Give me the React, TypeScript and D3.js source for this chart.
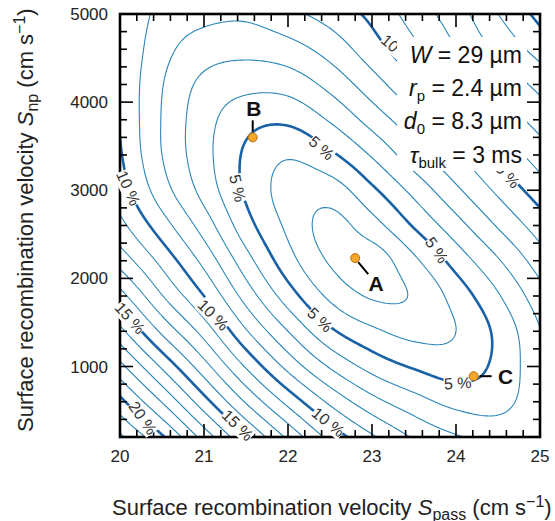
import React from "react";
import * as d3 from "d3";

const FONT = "'Liberation Sans', Arial, Helvetica, sans-serif";

// axes
const xTicks = [20, 21, 22, 23, 24, 25];
const yTicks = [1000, 2000, 3000, 4000, 5000];

// contour levels (efficiency loss, %)
const levels = [1, 2, 3, 4, 5, 6, 7, 8, 9, 10, 11, 12, 13, 14, 15, 16, 17, 18, 19, 20, 21, 22, 23, 24, 25];
const boldLevels = [5, 10, 15, 20, 25];

// sampled surface: columns = S_pass, rows = S_np (top row = 5000)
const gridX = [20, 20.5, 21, 21.5, 22, 22.5, 23, 23.5, 24, 24.5, 25];
const gridY = [5000, 4600, 4200, 3800, 3400, 3000, 2600, 2200, 1800, 1400, 1000, 600, 200];
const lossGrid = [
  [10.0, 8.7, 8.3, 8.2, 8.75, 9.4, 10.25, 11.45, 12.55, 14.0, 15.3],
  [9.95, 8.35, 7.5, 7.3, 7.6, 8.4, 9.55, 10.75, 11.95, 13.2, 14.4],
  [9.9, 8.05, 6.75, 6.3, 6.4, 7.3, 8.55, 9.85, 11.05, 12.2, 13.3],
  [9.95, 7.95, 6.4, 5.35, 5.2, 6.1, 7.4, 8.7, 10.0, 11.3, 12.4],
  [10.1, 8.0, 6.35, 4.85, 4.1, 4.8, 6.1, 7.6, 8.9, 10.2, 11.5],
  [10.5, 8.45, 6.65, 4.85, 3.6, 3.5, 4.8, 6.3, 7.8, 9.2, 10.5],
  [11.3, 9.45, 7.55, 5.4, 3.8, 2.7, 3.6, 5.1, 6.6, 8.1, 9.5],
  [12.6, 10.7, 8.7, 6.4, 4.4, 2.9, 2.5, 3.8, 5.4, 6.9, 8.5],
  [14.4, 12.05, 10.0, 7.6, 5.5, 3.8, 2.9, 3.1, 4.4, 5.9, 7.6],
  [16.3, 13.8, 11.6, 9.1, 7.0, 5.2, 4.2, 3.7, 4.0, 5.25, 6.95],
  [18.3, 15.85, 13.4, 10.9, 8.7, 6.9, 5.65, 4.9, 4.55, 5.25, 6.75],
  [20.3, 17.95, 15.4, 12.9, 10.7, 8.8, 7.35, 6.4, 5.7, 5.65, 6.7],
  [22.2, 20.15, 17.6, 15.1, 12.8, 10.7, 9.15, 7.9, 7.1, 6.7, 6.9],
];

const points = [
  { name: "A", x: 22.8, y: 2230 },
  { name: "B", x: 21.58, y: 3600 },
  { name: "C", x: 24.21, y: 890 },
];

const contourLabels = [
  { text: "5 %", x: 21.4, y: 3025, a: 77 },
  { text: "5 %", x: 22.4, y: 3480, a: 42 },
  { text: "5 %", x: 23.77, y: 2320, a: 55 },
  { text: "5 %", x: 24.02, y: 810, a: -3 },
  { text: "5 %", x: 22.38, y: 1530, a: 44 },
  { text: "10 %", x: 20.1, y: 3025, a: 66 },
  { text: "10 %", x: 21.11, y: 1585, a: 45 },
  { text: "10 %", x: 22.48, y: 370, a: 39 },
  { text: "10 %", x: 23.3, y: 4600, a: 40 },
  { text: "10 %", x: 24.58, y: 3205, a: 47 },
  { text: "15 %", x: 20.12, y: 1550, a: 48 },
  { text: "15 %", x: 21.4, y: 335, a: 45 },
  { text: "20 %", x: 20.27, y: 415, a: 55 },
];

function catmull(p0: number, p1: number, p2: number, p3: number, t: number) {
  const t2 = t * t, t3 = t2 * t;
  return 0.5 * ((-t3 + 2 * t2 - t) * p0 + (3 * t3 - 5 * t2 + 2) * p1 + (-3 * t3 + 4 * t2 + t) * p2 + (t3 - t2) * p3);
}

export default function App() {
  const W = 555, H = 521;
  const X0 = 120, X1 = 540, Y0 = 14, Y1 = 437;
  const x = d3.scaleLinear().domain([20, 25]).range([X0, X1]);
  const y = d3.scaleLinear().domain([200, 5000]).range([Y1, Y0]);

  const NX = gridX.length, NY = gridY.length;
  const P: number[][] = [];
  for (let r = -1; r <= NY; r++) {
    const row: number[] = [];
    for (let c = -1; c <= NX; c++) {
      const rc = Math.min(Math.max(r, 0), NY - 1), cc = Math.min(Math.max(c, 0), NX - 1);
      let v = lossGrid[rc][cc];
      if (c < 0) v += lossGrid[rc][0] - lossGrid[rc][1];
      if (c >= NX) v += lossGrid[rc][NX - 1] - lossGrid[rc][NX - 2];
      if (r < 0) v += lossGrid[0][cc] - lossGrid[1][cc];
      if (r >= NY) v += lossGrid[NY - 1][cc] - lossGrid[NY - 2][cc];
      row.push(v);
    }
    P.push(row);
  }
  const interp = (u: number, v: number) => {
    const i = Math.min(Math.max(Math.floor(u), 0), NX - 2), j = Math.min(Math.max(Math.floor(v), 0), NY - 2);
    const tu = u - i, tv = v - j;
    const rows: number[] = [];
    for (let k = -1; k <= 2; k++) {
      const R = P[j + k + 1];
      rows.push(catmull(R[i], R[i + 1], R[i + 2], R[i + 3], tu));
    }
    return catmull(rows[0], rows[1], rows[2], rows[3], tv);
  };

  const u = d3.scaleLinear().domain([gridX[0], gridX[NX - 1]]).range([0, NX - 1]);
  const v = d3.scaleLinear().domain([gridY[0], gridY[NY - 1]]).range([0, NY - 1]);

  const step = 2;
  const nx = Math.round((X1 - X0) / step) + 1;
  const ny = Math.round((Y1 - Y0) / step) + 1;
  const values: number[] = new Array(nx * ny);
  for (let j = 0; j < ny; j++)
    for (let i = 0; i < nx; i++)
      values[j * nx + i] = interp(u(x.invert(X0 + i * step)), v(y.invert(Y0 + j * step)));
  const contours = d3.contours().size([nx, ny]).thresholds(levels)(values);
  const proj = d3.geoTransform({
    point(px: number, py: number) {
      (this as any).stream.point(X0 + (px - 0.5) * step, Y0 + (py - 0.5) * step);
    },
  });
  const path = d3.geoPath(proj as any);

  const xMinor = d3.range(20, 25.001, 0.2);
  const yMinor = d3.range(200, 5000.1, 200);

  return (
    <svg width={W} height={H} style={{ position: "absolute", left: 0, top: 0, background: "#fff" }} fontFamily={FONT}>
      <defs>
        <clipPath id="plot">
          <rect x={X0} y={Y0} width={X1 - X0} height={Y1 - Y0} />
        </clipPath>
      </defs>
      <rect x={0} y={0} width={W} height={H} fill="#fff" />
      <g clipPath="url(#plot)" fill="none" strokeLinejoin="round">
        {contours.map((c) => (
          <path
            key={c.value}
            d={path(c as any) || ""}
            stroke={boldLevels.includes(c.value) ? "#1a62a6" : "#2b87b9"}
            strokeWidth={boldLevels.includes(c.value) ? 2.6 : 1.1}
          />
        ))}
      </g>
      <g stroke="#000" strokeWidth={1.6}>
        {xMinor.map((t, i) => {
          const major = Math.abs(t - Math.round(t)) < 1e-6;
          const len = major ? 13 : 7;
          return (
            <g key={"xt" + i}>
              <line x1={x(t)} x2={x(t)} y1={Y1} y2={Y1 - len} />
              <line x1={x(t)} x2={x(t)} y1={Y0} y2={Y0 + len} />
            </g>
          );
        })}
        {yMinor.map((t, i) => {
          const major = Math.abs(t / 1000 - Math.round(t / 1000)) < 1e-6;
          const len = major ? 13 : 7;
          return (
            <g key={"yt" + i}>
              <line x1={X0} x2={X0 + len} y1={y(t)} y2={y(t)} />
              <line x1={X1} x2={X1 - len} y1={y(t)} y2={y(t)} />
            </g>
          );
        })}
      </g>
      <rect x={X0} y={Y0} width={X1 - X0} height={Y1 - Y0} fill="none" stroke="#000" strokeWidth={2.6} />
      {contourLabels.map((l, i) => {
        const w = l.text.length * 8.6 + 2;
        return (
          <g key={"cl" + i} transform={`translate(${x(l.x)},${y(l.y)}) rotate(${l.a})`}>
            <rect x={-w / 2} y={-8.5} width={w} height={17} fill="#fff" />
            <text x={0} y={0} dy="0.35em" textAnchor="middle" fontSize={16} fill="#333">
              {l.text}
            </text>
          </g>
        );
      })}
      <rect x={397} y={37} width={130} height={134} fill="#fff" />
      <g fontSize={23} fill="#111" textAnchor="end">
        <text x={522} y={63}>
          <tspan fontStyle="italic">W</tspan> = 29 µm
        </text>
        <text x={522} y={96}>
          <tspan fontStyle="italic">r</tspan>
          <tspan fontSize={15} dy={5}>p</tspan>
          <tspan dy={-5}> = 2.4 µm</tspan>
        </text>
        <text x={522} y={129}>
          <tspan fontStyle="italic">d</tspan>
          <tspan fontSize={15} dy={5}>0</tspan>
          <tspan dy={-5}> = 8.3 µm</tspan>
        </text>
        <text x={522} y={163}>
          <tspan fontStyle="italic">τ</tspan>
          <tspan fontSize={15} dy={5}>bulk</tspan>
          <tspan dy={-5}> = 3 ms</tspan>
        </text>
      </g>
      {points.map((p) => {
        const px = x(p.x), py = y(p.y);
        let lead: [number, number, number, number] = [0, 0, 0, 0];
        let lx = 0, ly = 0;
        if (p.name === "A") { lead = [px + 3, py + 4, px + 13, py + 16]; lx = px + 21; ly = py + 25; }
        if (p.name === "B") { lead = [px, py - 6, px, py - 17]; lx = px + 1; ly = py - 29; }
        if (p.name === "C") { lead = [px + 6, py, px + 18, py]; lx = px + 32; ly = py; }
        return (
          <g key={p.name}>
            <line x1={lead[0]} y1={lead[1]} x2={lead[2]} y2={lead[3]} stroke="#000" strokeWidth={2} />
            <circle cx={px} cy={py} r={4.5} fill="#f4a62a" stroke="#b8700a" strokeWidth={1} />
            <text x={lx} y={ly} dy="0.36em" textAnchor="middle" fontSize={21} fontWeight="bold" fill="#111">
              {p.name}
            </text>
          </g>
        );
      })}
      <g fontSize={17} fill="#222">
        {xTicks.map((t) => (
          <text key={"xl" + t} x={x(t)} y={462} textAnchor="middle">{t}</text>
        ))}
        {yTicks.map((t) => (
          <text key={"yl" + t} x={108} y={y(t)} dy="0.36em" textAnchor="end">{t}</text>
        ))}
      </g>
      <text x={112} y={515} fontSize={22} fill="#222">
        Surface recombination velocity <tspan fontStyle="italic">S</tspan>
        <tspan fontSize={16} dy={5}>pass</tspan>
        <tspan dy={-5}> (cm s</tspan>
        <tspan fontSize={16} dy={-8}>−1</tspan>
        <tspan dy={8}>)</tspan>
      </text>
      <text transform="translate(33,432) rotate(-90)" fontSize={22} fill="#222">
        Surface recombination velocity <tspan fontStyle="italic">S</tspan>
        <tspan fontSize={16} dy={5}>np</tspan>
        <tspan dy={-5}> (cm s</tspan>
        <tspan fontSize={16} dy={-8}>−1</tspan>
        <tspan dy={8}>)</tspan>
      </text>
    </svg>
  );
}
